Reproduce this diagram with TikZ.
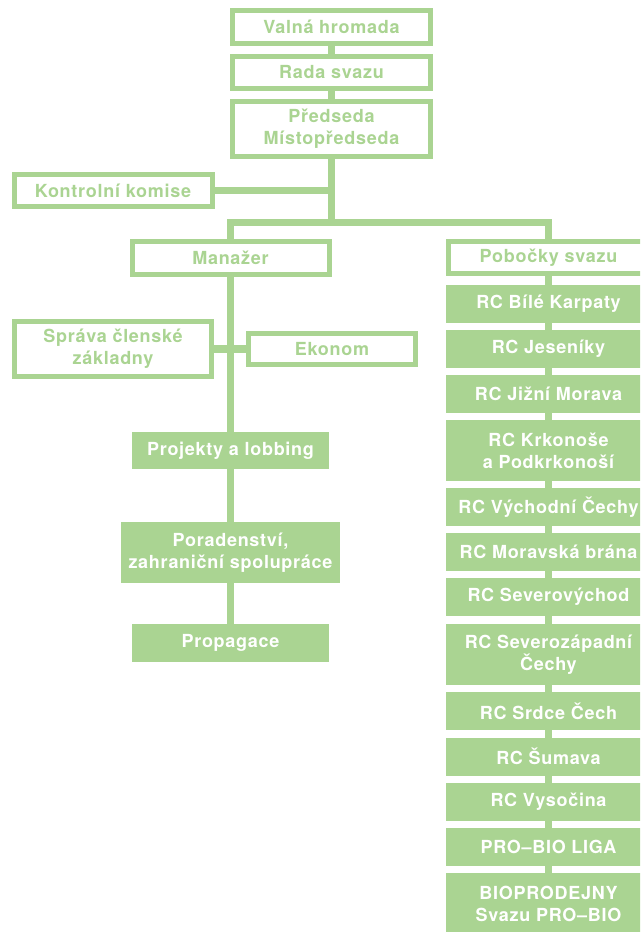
\documentclass[tikz,border=0pt]{standalone}
\usepackage{fontspec}
\setmainfont{TeX Gyre Heros}[LetterSpace=4]
\usetikzlibrary{calc}
\definecolor{orggreen}{RGB}{170,212,146}
\tikzset{
    org box/.style = {rectangle, draw=orggreen, line width=3.75pt, fill=white, text=orggreen, font=\bfseries\fontsize{13.5pt}{16.5pt}\selectfont, align=center, inner sep=0pt, outer sep=0pt, minimum width=148.5pt, minimum height=24.5pt},
    unit box/.style = {rectangle, fill=orggreen, text=white, font=\bfseries\fontsize{13.5pt}{16.5pt}\selectfont, align=center, inner sep=0pt, outer sep=0pt, minimum width=153.75pt, minimum height=28.5pt},
    org link/.style = {draw=orggreen, line width=5.5pt}
}

\begin{document}
\begin{tikzpicture}[x=0.75pt, y=-0.75pt]
        \useasboundingbox (0,0) rectangle (640,932);
        \clip (0,0) rectangle (640,932);

        \node[org box] (vh) at (331.5,27) {Valná hromada};
        \node[org box] (rada) at (331.5,72.5) {Rada svazu};
        \node[org box, minimum height=41.25pt] (pred) at (331.5,129) {Předseda\\Místopředseda};
        \node[org box] (kk) at (113,190.5) {Kontrolní komise};
        \coordinate (bar) at (331.5,222.5);
        \node[org box, minimum width=147.75pt] (man) at (230.5,258) {Manažer};
        \node[org box, minimum width=150pt] (pob) at (548.5,257.5) {Pobočky svazu};

        \node[org box, minimum width=147.75pt, minimum height=41.25pt] (spr) at (113,349) {Správa členské\\základny};
        \node[org box, minimum width=125.25pt, minimum height=23.25pt] (eko) at (332,349) {Ekonom};
        \node[unit box, minimum width=147.75pt, minimum height=27.75pt] (proj) at (230.5,450.5) {Projekty a lobbing};
        \node[unit box, minimum width=164.25pt, minimum height=45.75pt] (por) at (230.5,552.5) {Poradenství,\\zahraniční spolupráce};
        \node[unit box, minimum width=147.75pt] (prop) at (230.5,643) {Propagace};

        \node[unit box] (rc1) at (548.5,304) {RC Bílé Karpaty};
        \node[unit box] (rc2) at (548.5,349) {RC Jeseníky};
        \node[unit box] (rc3) at (548.5,394) {RC Jižní Morava};
        \node[unit box, minimum height=45.75pt] (rc4) at (548.5,450.5) {RC Krkonoše\\a Podkrkonoší};
        \node[unit box] (rc5) at (548.5,507) {RC Východní Čechy};
        \node[unit box] (rc6) at (548.5,552) {RC Moravská brána};
        \node[unit box] (rc7) at (548.5,597) {RC Severovýchod};
        \node[unit box, minimum height=45.75pt] (rc8) at (548.5,654.5) {RC Severozápadní\\Čechy};
        \node[unit box] (rc9) at (548.5,711) {RC Srdce Čech};
        \node[unit box] (rc10) at (548.5,756.5) {RC Šumava};
        \node[unit box] (rc11) at (548.5,802) {RC Vysočina};
        \node[unit box] (rc12) at (548.5,846.5) {PRO–BIO LIGA};
        \node[unit box, minimum height=45.75pt] (bio) at (548.5,903.5) {BIOPRODEJNY\\Svazu PRO–BIO};

        \draw[org link] (vh.south) -- (rada.north);
        \draw[org link] (rada.south) -- (pred.north);
        \draw[org link] (pred.south) -- (bar);
        \draw[org link] (kk.east) -- (kk.east -| pred.south);
        \draw[org link] (man.north) |- (bar) -| (pob.north);
        \draw[org link] (man.south) -- (proj.north);
        \draw[org link] (spr.east) -- (eko.west);
        \draw[org link] (proj.south) -- (por.north);
        \draw[org link] (por.south) -- (prop.north);
        \foreach \a/\b in {pob/rc1, rc1/rc2, rc2/rc3, rc3/rc4, rc4/rc5, rc5/rc6, rc6/rc7, rc7/rc8, rc8/rc9, rc9/rc10, rc10/rc11, rc11/rc12, rc12/bio}
            \draw[org link] (\a.south) -- (\b.north);
    \end{tikzpicture}
\end{document}
